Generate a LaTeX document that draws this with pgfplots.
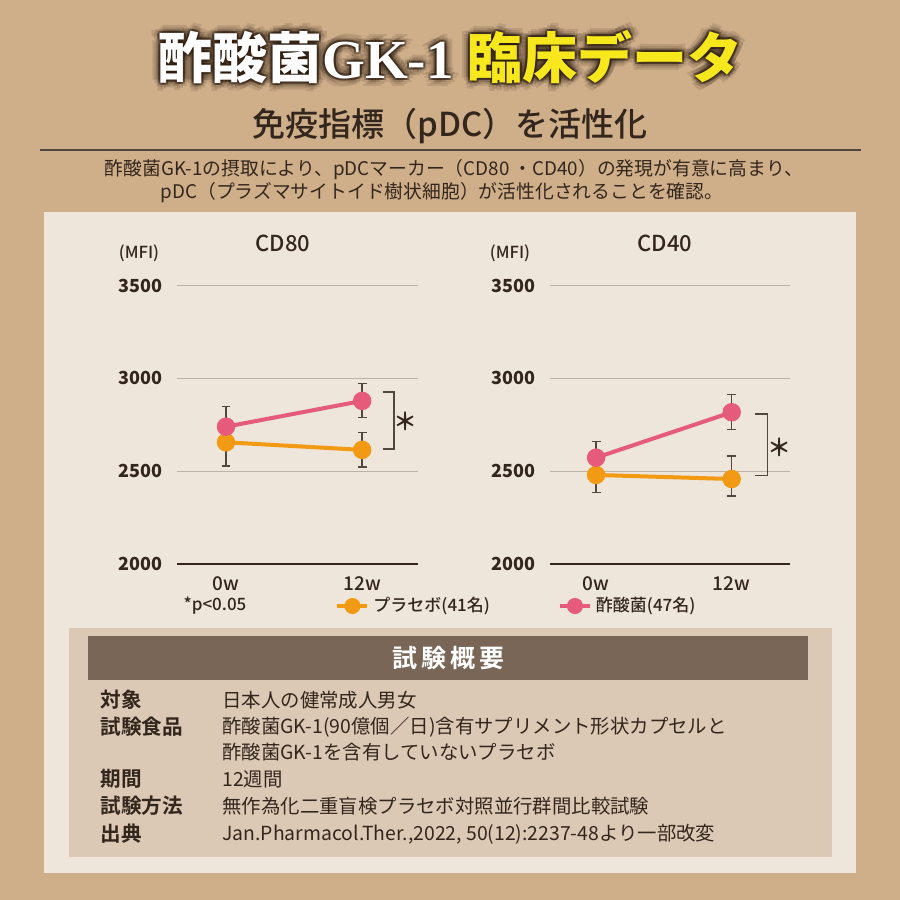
\documentclass[border=0pt]{standalone}
\usepackage{fontspec}
\usepackage{pgfplots}
\usepackage{pgfplotstable}
\pgfplotsset{compat=1.18}
\setmainfont{Noto Sans CJK JP}[BoldFont={* Bold}]
\newfontfamily\jpmed{Noto Sans CJK JP}[UprightFont={* Medium}]
\newfontfamily\jpblack{Noto Sans CJK JP}[UprightFont={* Black}]
\newfontfamily\serifb{Liberation Serif}[UprightFont={* Bold}]

\definecolor{bg}{HTML}{CFAE8A}
\definecolor{panel}{HTML}{EEE5DB}
\definecolor{sumbox}{HTML}{DCC9B5}
\definecolor{barc}{HTML}{7A6657}
\definecolor{txt}{HTML}{33261C}
\definecolor{orng}{HTML}{F29A14}
\definecolor{pnk}{HTML}{E65A7A}
\definecolor{gridc}{HTML}{BDB2A6}
\definecolor{ttlY}{HTML}{F7E81E}
\definecolor{shad}{HTML}{2A1A0E}

\pgfplotstableread{
x y ep em
0 2656 0 128
1 2615 95 92
}\cdeightyP
\pgfplotstableread{
x y ep em
0 2740 108 0
1 2879 95 90
}\cdeightyA
\pgfplotstableread{
x y ep em
0 2480 0 96
1 2458 124 91
}\cdfortyP
\pgfplotstableread{
x y ep em
0 2573 86 0
1 2818 97 92
}\cdfortyA

\newcommand\titletxt[2]{{\color{#1}\jpblack 酢酸菌{\serifb GK-1}}\hspace{7pt}{\color{#2}\jpblack 臨床データ}}

\pgfplotsset{
  mfi/.style={
    scale only axis, height=139.15pt,
    ymin=2000, ymax=3500,
    axis line style={draw=none}, major tick length=0pt,
    xtick={0,1}, xticklabels={0w,12w},
    ytick={2000,2500,3000,3500}, yticklabels={2000,2500,3000,3500},
    ymajorgrids, grid style={gridc, line width=0.7pt},
    tick label style={font=\jpmed\bfseries\fontsize{9}{10}\selectfont, text=txt},
    yticklabel style={anchor=east, inner sep=0pt, xshift=-7pt},
    xticklabel style={anchor=base, inner sep=0pt, yshift=-13.5pt, font=\jpmed\fontsize{9.5}{10}\selectfont},
    clip=false, anchor=south west,
  },
  mfiplot/.style={line width=2pt, mark=*, mark size=3.6pt, mark options={solid},
      error bars/.cd, y dir=both, y explicit,
      error bar style={line width=0.7pt, color=txt!85},
      error mark=|, error mark options={line width=0.7pt, mark size=2.2pt, color=txt!85}},
}

\begin{document}
\begin{tikzpicture}[x=0.5pt,y=0.5pt]
\fill[bg] (0,0) rectangle (900,900);
\useasboundingbox (0,0) rectangle (900,900);
\fill[panel] (44,27) rectangle (856,688);
\fill[sumbox] (69,43) rectangle (832,272);
\fill[barc] (88,220) rectangle (808,264);

% title with soft dark glow
\foreach \dx/\dy in {6/0,-6/0,0/6,0/-6,4/4,-4/4,4/-4,-4/-4,8/3,-8/3,3/8,-3/-8}
  \node[opacity=0.12, font=\fontsize{27.5}{30}\selectfont] at (450+\dx,843+\dy) {\titletxt{shad}{shad}};
\foreach \dx/\dy in {2/0,-2/0,0/2,0/-2,2/2,-2/2,2/-2,-2/-2}
  \node[opacity=0.35, font=\fontsize{27.5}{30}\selectfont] at (450+\dx,843+\dy) {\titletxt{shad}{shad}};
\node[font=\fontsize{27.5}{30}\selectfont] at (450,843) {\titletxt{white}{ttlY}};

\node[text=txt, font=\jpmed\fontsize{16.5}{20}\selectfont] at (450,774) {免疫指標（pDC）を活性化};
\draw[txt!85, line width=0.6pt] (40,750) -- (861,750);
\node[text=txt, font=\fontsize{9.4}{12}\selectfont] at (454,730) {酢酸菌GK-1の摂取により、pDCマーカー（CD80 ・CD40）の発現が有意に高まり、};
\node[text=txt, font=\fontsize{9.4}{12}\selectfont] at (442,707) {pDC（プラズマサイトイド樹状細胞）が活性化されることを確認。};

% chart labels
\node[text=txt, font=\jpmed\fontsize{8.3}{9}\selectfont] at (139,647) {(MFI)};
\node[text=txt, font=\jpmed\fontsize{11}{12}\selectfont] at (283,657) {CD80};
\node[text=txt, font=\jpmed\fontsize{8.3}{9}\selectfont] at (510,647) {(MFI)};
\node[text=txt, font=\jpmed\fontsize{11}{12}\selectfont] at (665,657) {CD40};
\node[text=txt, font=\jpmed\fontsize{8.5}{10}\selectfont] at (215,294) {*p<0.05};

\begin{axis}[mfi, at={(88.5pt,168pt)}, width=120.5pt, xmin=-0.36, xmax=1.41,
  legend columns=2,
  legend style={at={(axis description cs:0.656,-0.151)}, anchor=west, draw=none, fill=none,
    inner sep=0pt, font=\jpmed\fontsize{8.5}{10}\selectfont, text=txt,
    /tikz/every even column/.append style={column sep=32pt}},
  legend image code/.code={\draw[mark repeat=2, mark phase=2, #1, mark size=3pt] plot coordinates {(0pt,0pt) (7.5pt,0pt) (15pt,0pt)};}]
\addplot[color=orng, mfiplot] table[x=x, y=y, y error plus=ep, y error minus=em] {\cdeightyP};
\addplot[color=pnk, mfiplot] table[x=x, y=y, y error plus=ep, y error minus=em] {\cdeightyA};
\legend{プラセボ(41名), 酢酸菌(47名)}
\draw[txt, line width=1.1pt] (rel axis cs:0,0) -- (rel axis cs:1,0);
\draw[txt!85, line width=0.7pt] (axis cs:1.154,2927) -| (axis cs:1.235,2620) -- (axis cs:1.154,2620);
\node[text=txt, font=\bfseries\fontsize{12}{12}\selectfont] at (axis cs:1.316,2771) {＊};
\end{axis}

\begin{axis}[mfi, at={(275pt,168pt)}, width=120pt, xmin=-0.34, xmax=1.43]
\addplot[color=orng, mfiplot] table[x=x, y=y, y error plus=ep, y error minus=em] {\cdfortyP};
\addplot[color=pnk, mfiplot] table[x=x, y=y, y error plus=ep, y error minus=em] {\cdfortyA};
\draw[txt, line width=1.1pt] (rel axis cs:0,0) -- (rel axis cs:1,0);
\draw[txt!85, line width=0.7pt] (axis cs:1.172,2809) -| (axis cs:1.265,2476) -- (axis cs:1.172,2476);
\node[text=txt, font=\bfseries\fontsize{12}{12}\selectfont] at (axis cs:1.356,2631) {＊};
\end{axis}

% summary
\node[text=white, font=\bfseries\fontsize{12.5}{14}\selectfont] at (448,242) {試\hspace{2pt}験\hspace{2pt}概\hspace{2pt}要};
\foreach \yy/\lab in {200/対象, 173/試験食品, 121/期間, 94/試験方法, 66/出典}
  \node[anchor=west, text=txt, inner sep=0pt, font=\bfseries\fontsize{10.3}{12}\selectfont] at (100,\yy) {\lab};
\begin{scope}[every node/.style={anchor=west, text=txt, inner sep=0pt, font=\fontsize{9.7}{12}\selectfont}]
\node at (222,200) {日本人の健常成人男女};
\node at (222,173) {酢酸菌GK-1(90億個／日)含有サプリメント形状カプセルと};
\node at (222,148) {酢酸菌GK-1を含有していないプラセボ};
\node at (222,121) {12週間};
\node at (222,94) {無作為化二重盲検プラセボ対照並行群間比較試験};
\node at (222,66) {Jan.Pharmacol.Ther.,2022, 50(12):2237-48より一部改変};
\end{scope}
\end{tikzpicture}
\end{document}
